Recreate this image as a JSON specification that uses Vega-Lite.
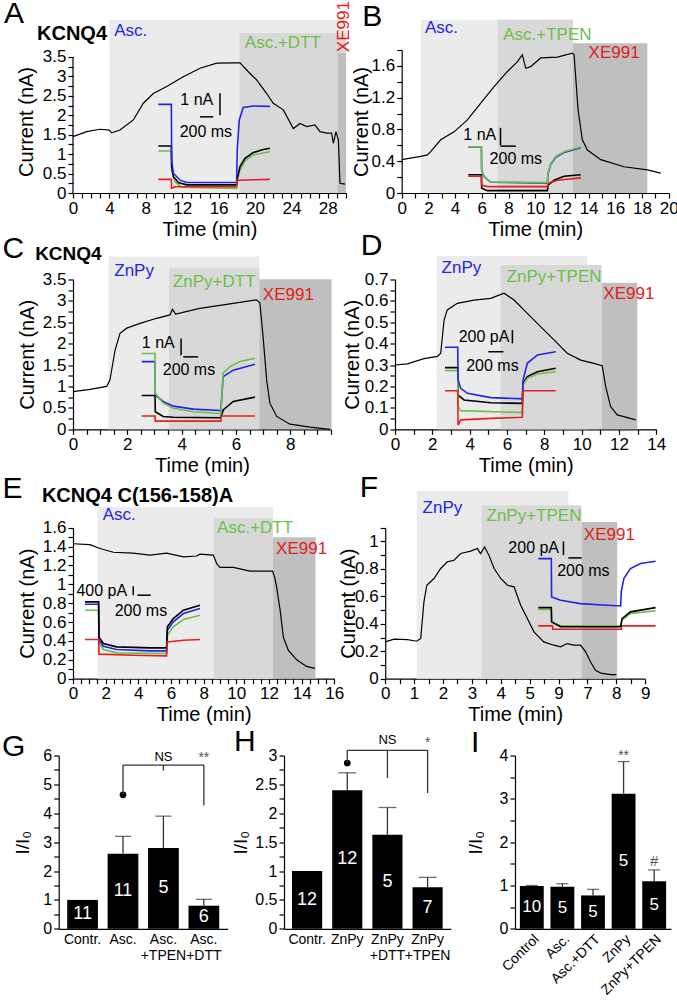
{
"$schema":"https://vega.github.io/schema/vega-lite/v6.json",
"autosize":{"type":"none"},
"padding":{"left":73,"top":50,"right":604,"bottom":953},
"config":{"font":"Liberation Sans","view":{"stroke":null},
 "axis":{"grid":false,"domainColor":"black","tickColor":"black","labelColor":"black","titleColor":"black","labelFontSize":17,"titleFontSize":20,"titleFontWeight":"normal","tickSize":5,"labelPadding":2,"domainWidth":1.2,"tickWidth":1.2,"labelOverlap":false,"labelFlush":false,"labelBound":false}},
"datasets":{
"one":[{}],
"A_trace":[{"t":0,"v":1.45},{"t":1.5,"v":1.58},{"t":2.97,"v":1.64},{"t":3.99,"v":1.62},{"t":4.25,"v":1.55},{"t":5.16,"v":1.62},{"t":6.63,"v":1.88},{"t":7.73,"v":2.31},{"t":8.83,"v":2.56},{"t":10.3,"v":2.74},{"t":12.12,"v":2.99},{"t":13.96,"v":3.21},{"t":15.79,"v":3.34},{"t":17.62,"v":3.35},{"t":18.35,"v":3.35},{"t":19.27,"v":3.12},{"t":20.18,"v":2.91},{"t":21.28,"v":2.56},{"t":22.01,"v":2.31},{"t":23.11,"v":2.14},{"t":24.21,"v":1.66},{"t":24.95,"v":1.79},{"t":25.68,"v":1.71},{"t":26.59,"v":1.75},{"t":27.14,"v":1.58},{"t":27.87,"v":1.54},{"t":28.42,"v":1.54},{"t":28.61,"v":1.28},{"t":28.9,"v":1.58},{"t":29.16,"v":1.36},{"t":29.34,"v":0.25},{"t":29.89,"v":0.23}],
"A_inset":[
{"trace":"drug+agent","t":9.38,"v":1.08},{"trace":"drug+agent","t":10.81,"v":1.08},{"trace":"drug+agent","t":10.84,"v":0.59},{"trace":"drug+agent","t":11.21,"v":0.29},{"trace":"drug+agent","t":11.94,"v":0.15},{"trace":"drug+agent","t":17.98,"v":0.12},{"trace":"drug+agent","t":18.05,"v":0.29},{"trace":"drug+agent","t":18.35,"v":0.59},{"trace":"drug+agent","t":18.9,"v":0.83},{"trace":"drug+agent","t":19.81,"v":0.98},{"trace":"drug+agent","t":21.64,"v":1.06},
{"trace":"control","t":9.38,"v":1.21},{"trace":"control","t":10.81,"v":1.21},{"trace":"control","t":10.84,"v":0.68},{"trace":"control","t":11.03,"v":0.42},{"trace":"control","t":11.58,"v":0.27},{"trace":"control","t":12.49,"v":0.21},{"trace":"control","t":17.98,"v":0.21},{"trace":"control","t":18.05,"v":0.38},{"trace":"control","t":18.35,"v":0.68},{"trace":"control","t":18.9,"v":0.89},{"trace":"control","t":19.81,"v":1.04},{"trace":"control","t":20.91,"v":1.12},{"trace":"control","t":21.64,"v":1.15},
{"trace":"drug","t":9.38,"v":2.28},{"trace":"drug","t":10.81,"v":2.28},{"trace":"drug","t":10.84,"v":0.85},{"trace":"drug","t":11.03,"v":0.51},{"trace":"drug","t":11.76,"v":0.33},{"trace":"drug","t":12.49,"v":0.27},{"trace":"drug","t":17.98,"v":0.27},{"trace":"drug","t":18.05,"v":1.11},{"trace":"drug","t":18.27,"v":1.88},{"trace":"drug","t":18.71,"v":2.2},{"trace":"drug","t":19.81,"v":2.24},{"trace":"drug","t":21.64,"v":2.23},
{"trace":"XE991","t":9.38,"v":0.35},{"trace":"XE991","t":10.81,"v":0.35},{"trace":"XE991","t":10.84,"v":0.12},{"trace":"XE991","t":11.21,"v":0.16},{"trace":"XE991","t":17.98,"v":0.16},{"trace":"XE991","t":18.05,"v":0.33},{"trace":"XE991","t":21.64,"v":0.35}],
"B_trace":[{"t":0,"v":0.42},{"t":1.42,"v":0.46},{"t":1.92,"v":0.48},{"t":2.17,"v":0.52},{"t":2.92,"v":0.67},{"t":3.92,"v":0.77},{"t":4.92,"v":0.92},{"t":5.92,"v":1.13},{"t":6.92,"v":1.34},{"t":7.92,"v":1.53},{"t":8.66,"v":1.65},{"t":9.04,"v":1.74},{"t":9.29,"v":1.57},{"t":9.66,"v":1.59},{"t":10.41,"v":1.7},{"t":11.66,"v":1.71},{"t":12.78,"v":1.76},{"t":12.91,"v":1.74},{"t":13.21,"v":1.05},{"t":13.53,"v":0.67},{"t":13.91,"v":0.54},{"t":14.91,"v":0.42},{"t":16.65,"v":0.33},{"t":18.4,"v":0.29},{"t":19.4,"v":0.25}],
"B_inset":[
{"trace":"drug","t":4.99,"v":0.575},{"trace":"drug","t":5.97,"v":0.575},{"trace":"drug","t":5.99,"v":0.285},{"trace":"drug","t":6.17,"v":0.205},{"trace":"drug","t":6.67,"v":0.135},{"trace":"drug","t":10.91,"v":0.125},{"trace":"drug","t":10.96,"v":0.24},{"trace":"drug","t":11.16,"v":0.36},{"trace":"drug","t":11.54,"v":0.45},{"trace":"drug","t":12.16,"v":0.51},{"trace":"drug","t":13.41,"v":0.57},
{"trace":"control","t":4.99,"v":0.23},{"trace":"control","t":5.97,"v":0.23},{"trace":"control","t":5.99,"v":0.06},{"trace":"control","t":6.42,"v":0.03},{"trace":"control","t":10.91,"v":0.03},{"trace":"control","t":10.96,"v":0.1},{"trace":"control","t":11.41,"v":0.16},{"trace":"control","t":12.16,"v":0.21},{"trace":"control","t":13.41,"v":0.23},
{"trace":"XE991","t":4.99,"v":0.21},{"trace":"XE991","t":5.97,"v":0.21},{"trace":"XE991","t":5.99,"v":0.1},{"trace":"XE991","t":6.42,"v":0.08},{"trace":"XE991","t":10.91,"v":0.08},{"trace":"XE991","t":10.96,"v":0.12},{"trace":"XE991","t":11.66,"v":0.16},{"trace":"XE991","t":13.41,"v":0.19},
{"trace":"drug+agent","t":4.99,"v":0.58},{"trace":"drug+agent","t":5.97,"v":0.58},{"trace":"drug+agent","t":5.99,"v":0.29},{"trace":"drug+agent","t":6.17,"v":0.21},{"trace":"drug+agent","t":6.67,"v":0.14},{"trace":"drug+agent","t":10.91,"v":0.13},{"trace":"drug+agent","t":10.96,"v":0.25},{"trace":"drug+agent","t":11.16,"v":0.37},{"trace":"drug+agent","t":11.54,"v":0.46},{"trace":"drug+agent","t":12.16,"v":0.52},{"trace":"drug+agent","t":13.41,"v":0.58}],
"C_trace":[{"t":0,"v":0.88},{"t":0.63,"v":0.93},{"t":1.24,"v":1.0},{"t":1.36,"v":1.15},{"t":1.55,"v":1.85},{"t":1.73,"v":2.24},{"t":1.98,"v":2.36},{"t":2.47,"v":2.47},{"t":3.08,"v":2.59},{"t":3.57,"v":2.67},{"t":3.66,"v":2.8},{"t":3.78,"v":2.69},{"t":4.67,"v":2.82},{"t":5.9,"v":2.94},{"t":6.76,"v":3.02},{"t":6.88,"v":2.95},{"t":7.0,"v":2.16},{"t":7.13,"v":1.15},{"t":7.25,"v":0.61},{"t":7.5,"v":0.3},{"t":7.99,"v":0.12},{"t":8.73,"v":0.05},{"t":9.46,"v":0.0}],
"C_inset":[
{"trace":"control","t":2.53,"v":0.79},{"trace":"control","t":3.02,"v":0.79},{"trace":"control","t":3.03,"v":0.41},{"trace":"control","t":3.32,"v":0.3},{"trace":"control","t":3.69,"v":0.28},{"trace":"control","t":5.41,"v":0.27},{"trace":"control","t":5.44,"v":0.27},{"trace":"control","t":5.53,"v":0.45},{"trace":"control","t":5.9,"v":0.65},{"trace":"control","t":6.7,"v":0.75},
{"trace":"XE991","t":2.53,"v":0.31},{"trace":"XE991","t":3.02,"v":0.31},{"trace":"XE991","t":3.03,"v":0.19},{"trace":"XE991","t":5.44,"v":0.19},{"trace":"XE991","t":5.45,"v":0.31},{"trace":"XE991","t":6.7,"v":0.31},
{"trace":"drug","t":2.53,"v":1.58},{"trace":"drug","t":3.02,"v":1.58},{"trace":"drug","t":3.03,"v":0.8},{"trace":"drug","t":3.32,"v":0.65},{"trace":"drug","t":3.69,"v":0.54},{"trace":"drug","t":4.43,"v":0.47},{"trace":"drug","t":5.41,"v":0.44},{"trace":"drug","t":5.44,"v":0.42},{"trace":"drug","t":5.53,"v":1.23},{"trace":"drug","t":5.9,"v":1.38},{"trace":"drug","t":6.7,"v":1.52},
{"trace":"drug+agent","t":2.53,"v":1.77},{"trace":"drug+agent","t":3.02,"v":1.77},{"trace":"drug+agent","t":3.03,"v":0.84},{"trace":"drug+agent","t":3.32,"v":0.61},{"trace":"drug+agent","t":3.69,"v":0.49},{"trace":"drug+agent","t":4.43,"v":0.41},{"trace":"drug+agent","t":5.41,"v":0.37},{"trace":"drug+agent","t":5.44,"v":0.36},{"trace":"drug+agent","t":5.53,"v":1.31},{"trace":"drug+agent","t":5.78,"v":1.46},{"trace":"drug+agent","t":6.15,"v":1.58},{"trace":"drug+agent","t":6.7,"v":1.66}],
"D_trace":[{"t":0,"v":0.3},{"t":0.66,"v":0.305},{"t":1.55,"v":0.33},{"t":2.27,"v":0.34},{"t":2.45,"v":0.355},{"t":2.63,"v":0.51},{"t":2.8,"v":0.557},{"t":3.34,"v":0.588},{"t":4.23,"v":0.603},{"t":5.13,"v":0.611},{"t":5.84,"v":0.635},{"t":6.38,"v":0.603},{"t":7.09,"v":0.541},{"t":7.8,"v":0.479},{"t":8.52,"v":0.417},{"t":9.23,"v":0.355},{"t":9.95,"v":0.323},{"t":10.66,"v":0.308},{"t":11.1,"v":0.297},{"t":11.29,"v":0.199},{"t":11.55,"v":0.106},{"t":11.91,"v":0.067},{"t":12.6,"v":0.051},{"t":12.9,"v":0.044}],
"D_inset":[
{"trace":"control","t":2.68,"v":0.288},{"trace":"control","t":3.36,"v":0.288},{"trace":"control","t":3.38,"v":0.16},{"trace":"control","t":3.7,"v":0.137},{"trace":"control","t":5.13,"v":0.124},{"trace":"control","t":6.82,"v":0.121},{"trace":"control","t":6.86,"v":0.215},{"trace":"control","t":7.09,"v":0.246},{"trace":"control","t":7.63,"v":0.269},{"trace":"control","t":8.61,"v":0.285},
{"trace":"drug+agent","t":2.68,"v":0.274},{"trace":"drug+agent","t":3.36,"v":0.274},{"trace":"drug+agent","t":3.38,"v":0.106},{"trace":"drug+agent","t":3.52,"v":0.087},{"trace":"drug+agent","t":6.82,"v":0.078},{"trace":"drug+agent","t":6.86,"v":0.207},{"trace":"drug+agent","t":7.09,"v":0.238},{"trace":"drug+agent","t":7.63,"v":0.258},{"trace":"drug+agent","t":8.61,"v":0.269},
{"trace":"drug","t":2.68,"v":0.383},{"trace":"drug","t":3.36,"v":0.383},{"trace":"drug","t":3.38,"v":0.23},{"trace":"drug","t":3.52,"v":0.191},{"trace":"drug","t":3.88,"v":0.168},{"trace":"drug","t":5.13,"v":0.148},{"trace":"drug","t":6.82,"v":0.142},{"trace":"drug","t":6.86,"v":0.23},{"trace":"drug","t":7.09,"v":0.308},{"trace":"drug","t":7.63,"v":0.347},{"trace":"drug","t":8.61,"v":0.362},
{"trace":"XE991","t":2.68,"v":0.18},{"trace":"XE991","t":3.36,"v":0.18},{"trace":"XE991","t":3.38,"v":0.02},{"trace":"XE991","t":3.52,"v":0.044},{"trace":"XE991","t":5.13,"v":0.051},{"trace":"XE991","t":6.82,"v":0.056},{"trace":"XE991","t":6.86,"v":0.18},{"trace":"XE991","t":8.61,"v":0.18}],
"E_trace":[{"t":0,"v":1.43},{"t":1.04,"v":1.42},{"t":1.65,"v":1.38},{"t":2.47,"v":1.34},{"t":3.69,"v":1.33},{"t":4.71,"v":1.31},{"t":5.73,"v":1.33},{"t":6.76,"v":1.29},{"t":7.57,"v":1.3},{"t":7.78,"v":1.32},{"t":8.59,"v":1.31},{"t":8.8,"v":1.22},{"t":9.0,"v":1.18},{"t":9.82,"v":1.18},{"t":10.84,"v":1.14},{"t":11.86,"v":1.14},{"t":12.22,"v":1.14},{"t":12.37,"v":1.06},{"t":12.47,"v":0.97},{"t":12.68,"v":0.73},{"t":12.88,"v":0.44},{"t":13.19,"v":0.3},{"t":13.7,"v":0.2},{"t":14.3,"v":0.13},{"t":14.82,"v":0.11}],
"E_inset":[
{"trace":"drug+agent","t":0.73,"v":0.726},{"trace":"drug+agent","t":1.57,"v":0.726},{"trace":"drug+agent","t":1.59,"v":0.373},{"trace":"drug+agent","t":1.86,"v":0.309},{"trace":"drug+agent","t":2.67,"v":0.274},{"trace":"drug+agent","t":5.73,"v":0.267},{"trace":"drug+agent","t":5.78,"v":0.461},{"trace":"drug+agent","t":6.14,"v":0.549},{"trace":"drug+agent","t":6.76,"v":0.627},{"trace":"drug+agent","t":7.78,"v":0.673},
{"trace":"drug","t":0.73,"v":0.789},{"trace":"drug","t":1.57,"v":0.789},{"trace":"drug","t":1.59,"v":0.408},{"trace":"drug","t":1.86,"v":0.344},{"trace":"drug","t":2.67,"v":0.309},{"trace":"drug","t":4.71,"v":0.295},{"trace":"drug","t":5.73,"v":0.295},{"trace":"drug","t":5.78,"v":0.514},{"trace":"drug","t":6.14,"v":0.602},{"trace":"drug","t":6.76,"v":0.69},{"trace":"drug","t":7.78,"v":0.743},
{"trace":"control","t":0.73,"v":0.814},{"trace":"control","t":1.57,"v":0.814},{"trace":"control","t":1.59,"v":0.443},{"trace":"control","t":1.86,"v":0.373},{"trace":"control","t":2.67,"v":0.337},{"trace":"control","t":4.71,"v":0.327},{"trace":"control","t":5.73,"v":0.327},{"trace":"control","t":5.78,"v":0.549},{"trace":"control","t":6.14,"v":0.637},{"trace":"control","t":6.76,"v":0.726},{"trace":"control","t":7.78,"v":0.779},
{"trace":"XE991","t":0.73,"v":0.415},{"trace":"XE991","t":1.57,"v":0.415},{"trace":"XE991","t":1.59,"v":0.26},{"trace":"XE991","t":3.69,"v":0.249},{"trace":"XE991","t":5.73,"v":0.242},{"trace":"XE991","t":5.78,"v":0.39},{"trace":"XE991","t":6.76,"v":0.408},{"trace":"XE991","t":7.78,"v":0.415}],
"F_trace":[{"t":0,"v":0.268},{"t":0.31,"v":0.288},{"t":0.77,"v":0.285},{"t":1.09,"v":0.273},{"t":1.23,"v":0.293},{"t":1.34,"v":0.559},{"t":1.44,"v":0.681},{"t":1.69,"v":0.73},{"t":1.92,"v":0.803},{"t":2.15,"v":0.851},{"t":2.38,"v":0.863},{"t":2.61,"v":0.912},{"t":2.96,"v":0.929},{"t":3.19,"v":0.948},{"t":3.3,"v":0.912},{"t":3.44,"v":0.96},{"t":3.59,"v":0.9},{"t":3.77,"v":0.803},{"t":4.0,"v":0.73},{"t":4.23,"v":0.681},{"t":4.46,"v":0.669},{"t":4.69,"v":0.535},{"t":4.92,"v":0.438},{"t":5.15,"v":0.341},{"t":5.49,"v":0.268},{"t":5.84,"v":0.244},{"t":6.07,"v":0.232},{"t":6.3,"v":0.256},{"t":6.53,"v":0.244},{"t":6.76,"v":0.244},{"t":6.94,"v":0.195},{"t":7.11,"v":0.122},{"t":7.28,"v":0.062},{"t":7.47,"v":0.04},{"t":7.8,"v":0.03},{"t":8.0,"v":0.03}],
"F_inset":[
{"trace":"drug","t":5.3,"v":0.875},{"trace":"drug","t":5.75,"v":0.875},{"trace":"drug","t":5.76,"v":0.596},{"trace":"drug","t":6.07,"v":0.572},{"trace":"drug","t":6.76,"v":0.547},{"trace":"drug","t":7.69,"v":0.535},{"trace":"drug","t":8.15,"v":0.53},{"trace":"drug","t":8.17,"v":0.632},{"trace":"drug","t":8.26,"v":0.73},{"trace":"drug","t":8.49,"v":0.802},{"trace":"drug","t":8.84,"v":0.839},{"trace":"drug","t":9.36,"v":0.856},
{"trace":"XE991","t":5.3,"v":0.385},{"trace":"XE991","t":5.79,"v":0.385},{"trace":"XE991","t":5.8,"v":0.36},{"trace":"XE991","t":8.17,"v":0.36},{"trace":"XE991","t":8.18,"v":0.385},{"trace":"XE991","t":9.36,"v":0.385},
{"trace":"drug+agent","t":5.3,"v":0.504},{"trace":"drug+agent","t":5.75,"v":0.504},{"trace":"drug+agent","t":5.76,"v":0.414},{"trace":"drug+agent","t":6.07,"v":0.385},{"trace":"drug+agent","t":8.15,"v":0.385},{"trace":"drug+agent","t":8.2,"v":0.426},{"trace":"drug+agent","t":8.49,"v":0.475},{"trace":"drug+agent","t":9.36,"v":0.494},
{"trace":"control","t":5.3,"v":0.518},{"trace":"control","t":5.75,"v":0.518},{"trace":"control","t":5.76,"v":0.414},{"trace":"control","t":6.07,"v":0.378},{"trace":"control","t":8.15,"v":0.378},{"trace":"control","t":8.2,"v":0.438},{"trace":"control","t":8.49,"v":0.487},{"trace":"control","t":9.36,"v":0.518}],
"G":[{"cond":"Contr.","mean":1.0,"n":11},{"cond":"Asc.","mean":2.6,"upper":3.2,"n":11},{"cond":"Asc.+TPEN","mean":2.8,"upper":3.9,"n":5},{"cond":"Asc.+DTT","mean":0.8,"upper":1.02,"n":6}],
"H":[{"cond":"Contr.","mean":1.0,"n":12},{"cond":"ZnPy","mean":2.4,"upper":2.7,"n":12},{"cond":"ZnPy+DTT","mean":1.63,"upper":2.1,"n":5},{"cond":"ZnPy+TPEN","mean":0.72,"upper":0.89,"n":7}],
"I":[{"cond":"Control","mean":0.99,"upper":1.0,"n":10},{"cond":"Asc.","mean":0.97,"upper":1.04,"n":5},{"cond":"Asc.+DTT","mean":0.77,"upper":0.91,"n":5},{"cond":"ZnPy","mean":3.12,"upper":3.86,"n":5},{"cond":"ZnPy+TPEN","mean":1.1,"upper":1.36,"n":5}]
},
"bounds":"flush","columns":3,"align":"each","spacing":{"row":76.5,"column":0},
"concat":[
  {"width":210.3,"height":143,"data":{"name":"one"},"layer":[
   {"mark":{"type":"rect","color":"#ebebeb"},"encoding":{
     "x":{"datum":4,"type":"quantitative","scale":{"domain":[0,30],"range":[0,273],"nice":false,"zero":false},"axis":{"title":"Time (min)","titlePadding":3,"tickCount":500,"labelOverlap":false,"values":[0,1,2,3,4,5,6,7,8,9,10,11,12,13,14,15,16,17,18,19,20,21,22,23,24,25,26,27,28,29,30],"labelExpr":"abs(datum.value/4-round(datum.value/4))<0.001 ? format(datum.value,'~g') : ''"}},
     "x2":{"datum":30},
     "y":{"datum":0,"type":"quantitative","scale":{"domain":[0,3.68],"nice":false},"axis":{"title":"Current (nA)","titlePadding":6,"tickCount":500,"labelOverlap":false,"domain":false,"values":[0,0.25,0.5,0.75,1,1.25,1.5,1.75,2,2.25,2.5,2.75,3,3.25,3.5],"labelExpr":"abs(datum.value/0.5-round(datum.value/0.5))<0.001 ? format(datum.value,'~g') : ''"}},
     "y2":{"datum":4.45}}},
   {"mark":{"type":"rect","color":"#d8d8d8"},"encoding":{"x":{"datum":18.3},"x2":{"datum":30},"y":{"datum":0},"y2":{"datum":4.12}}},
   {"mark":{"type":"rect","color":"#bfbfbf"},"encoding":{"x":{"datum":29.1},"x2":{"datum":30},"y":{"datum":0},"y2":{"datum":3.6}}},
   {"mark":{"type":"rule","color":"black","strokeWidth":1.2},"encoding":{"x":{"datum":0},"y":{"datum":0},"y2":{"datum":3.5}}},
   {"data":{"name":"A_trace"},"mark":{"type":"line","color":"black","strokeWidth":1.2},"encoding":{"x":{"field":"t","type":"quantitative"},"y":{"field":"v","type":"quantitative"}}},
   {"data":{"name":"A_inset"},"mark":{"type":"line","strokeWidth":1.6},"encoding":{"x":{"field":"t","type":"quantitative"},"y":{"field":"v","type":"quantitative"},"color":{"field":"trace","type":"nominal","scale":{"domain":["control","drug","drug+agent","XE991"],"range":["black","#2323e8","#6cc04a","#e3201b"]},"legend":null}}},
   {"mark":{"type":"rule","color":"black","strokeWidth":1.5},"encoding":{"x":{"datum":16.15},"y":{"datum":2.0},"y2":{"datum":2.57}}},
   {"mark":{"type":"rule","color":"black","strokeWidth":1.5},"encoding":{"x":{"datum":13.95},"x2":{"datum":15.4},"y":{"datum":1.96}}},
   {"mark":{"type":"text","fontSize":16},"encoding":{"x":{"datum":13.6},"y":{"datum":2.39},"text":{"value":"1 nA"}}},
   {"mark":{"type":"text","fontSize":16},"encoding":{"x":{"datum":14.6},"y":{"datum":1.57},"text":{"value":"200 ms"}}},
   {"mark":{"type":"text","fontSize":30},"encoding":{"x":{"datum":-6.48},"y":{"datum":4.61},"text":{"value":"A"}}},
   {"mark":{"type":"text","fontSize":20,"fontWeight":"bold"},"encoding":{"x":{"datum":-0.11},"y":{"datum":4.1},"text":{"value":"KCNQ4"}}},
   {"mark":{"type":"text","fontSize":17,"color":"#2323e8"},"encoding":{"x":{"datum":6.34},"y":{"datum":4.17},"text":{"value":"Asc."}}},
   {"mark":{"type":"text","fontSize":17,"color":"#6cc04a"},"encoding":{"x":{"datum":23.06},"y":{"datum":3.85},"text":{"value":"Asc.+DTT"}}},
   {"mark":{"type":"text","fontSize":17,"color":"#e3201b","angle":270},"encoding":{"x":{"datum":29.78},"y":{"datum":4.28},"text":{"value":"XE991"}}}
  ]},
  {"width":230.7,"height":143,"data":{"name":"one"},"layer":[
   {"mark":{"type":"rect","color":"#ebebeb"},"encoding":{
     "x":{"datum":1.42,"type":"quantitative","scale":{"domain":[0,20],"range":[117.7,384.7],"nice":false,"zero":false},"axis":{"title":"Time (min)","titlePadding":3,"tickCount":500,"labelOverlap":false,"values":[0,1,2,3,4,5,6,7,8,9,10,11,12,13,14,15,16,17,18,19,20],"labelExpr":"abs(datum.value/2-round(datum.value/2))<0.001 ? format(datum.value,'~g') : ''"}},
     "x2":{"datum":12.83},
     "y":{"datum":0,"type":"quantitative","scale":{"domain":[0,1.8],"nice":false},"axis":{"title":"Current (nA)","offset":-117.7,"titlePadding":0,"tickCount":500,"labelOverlap":false,"values":[0,0.2,0.4,0.6,0.8,1,1.2,1.4,1.6,1.8],"labelExpr":"abs(datum.value/0.4-round(datum.value/0.4))<0.001 ? format(datum.value,'~g') : ''"}},
     "y2":{"datum":2.18}}},
   {"mark":{"type":"rect","color":"#d8d8d8"},"encoding":{"x":{"datum":7.17},"x2":{"datum":12.83},"y":{"datum":0},"y2":{"datum":2.18}}},
   {"mark":{"type":"rect","color":"#bfbfbf"},"encoding":{"x":{"datum":12.83},"x2":{"datum":18.4},"y":{"datum":0},"y2":{"datum":1.885}}},
   {"data":{"name":"B_trace"},"mark":{"type":"line","color":"black","strokeWidth":1.2},"encoding":{"x":{"field":"t","type":"quantitative"},"y":{"field":"v","type":"quantitative"}}},
   {"data":{"name":"B_inset"},"mark":{"type":"line","strokeWidth":1.6},"encoding":{"x":{"field":"t","type":"quantitative"},"y":{"field":"v","type":"quantitative"},"color":{"field":"trace","type":"nominal","legend":null}}},
   {"mark":{"type":"rule","color":"black","strokeWidth":1.5},"encoding":{"x":{"datum":7.4},"y":{"datum":0.6},"y2":{"datum":0.82}}},
   {"mark":{"type":"rule","color":"black","strokeWidth":1.5},"encoding":{"x":{"datum":7.4},"x2":{"datum":8.55},"y":{"datum":0.59}}},
   {"mark":{"type":"text","fontSize":16},"encoding":{"x":{"datum":5.85},"y":{"datum":0.73},"text":{"value":"1 nA"}}},
   {"mark":{"type":"text","fontSize":16},"encoding":{"x":{"datum":8.55},"y":{"datum":0.43},"text":{"value":"200 ms"}}},
   {"mark":{"type":"text","fontSize":30},"encoding":{"x":{"datum":-2.2},"y":{"datum":2.22},"text":{"value":"B"}}},
   {"mark":{"type":"text","fontSize":17,"color":"#2323e8"},"encoding":{"x":{"datum":2.98},"y":{"datum":2.08},"text":{"value":"Asc."}}},
   {"mark":{"type":"text","fontSize":17,"color":"#6cc04a"},"encoding":{"x":{"datum":10.91},"y":{"datum":1.99},"text":{"value":"Asc.+TPEN"}}},
   {"mark":{"type":"text","fontSize":17,"color":"#e3201b"},"encoding":{"x":{"datum":15.91},"y":{"datum":1.76},"text":{"value":"XE991"}}}
  ]},
  {"width":0,"height":143,"data":{"name":"one"},"mark":{"type":"point","opacity":0},"encoding":{}},
  {"width":210.3,"height":159.8,"data":{"name":"one"},"layer":[
   {"mark":{"type":"rect","color":"#ebebeb"},"encoding":{
     "x":{"datum":1.3,"type":"quantitative","scale":{"domain":[0,9.5],"range":[0,258],"nice":false,"zero":false},"axis":{"title":"Time (min)","titlePadding":3,"tickCount":500,"labelOverlap":false,"values":[0,0.5,1,1.5,2,2.5,3,3.5,4,4.5,5,5.5,6,6.5,7,7.5,8,8.5,9,9.5],"labelExpr":"abs(datum.value/2-round(datum.value/2))<0.001 ? format(datum.value,'~g') : ''"}},
     "x2":{"datum":6.86},
     "y":{"datum":0,"type":"quantitative","scale":{"domain":[0,3.5],"range":[159.8,9.8],"nice":false},"axis":{"title":"Current (nA)","titlePadding":5,"tickCount":500,"labelOverlap":false,"values":[0,0.25,0.5,0.75,1,1.25,1.5,1.75,2,2.25,2.5,2.75,3,3.25,3.5],"labelExpr":"abs(datum.value/0.5-round(datum.value/0.5))<0.001 ? format(datum.value,'~g') : ''"}},
     "y2":{"datum":4.03}}},
   {"mark":{"type":"rect","color":"#d8d8d8"},"encoding":{"x":{"datum":3.53},"x2":{"datum":6.86},"y":{"datum":0},"y2":{"datum":3.76}}},
   {"mark":{"type":"rect","color":"#bfbfbf"},"encoding":{"x":{"datum":6.86},"x2":{"datum":9.52},"y":{"datum":0},"y2":{"datum":3.5}}},
   {"data":{"name":"C_trace"},"mark":{"type":"line","color":"black","strokeWidth":1.2},"encoding":{"x":{"field":"t","type":"quantitative"},"y":{"field":"v","type":"quantitative"}}},
   {"data":{"name":"C_inset"},"mark":{"type":"line","strokeWidth":1.6},"encoding":{"x":{"field":"t","type":"quantitative"},"y":{"field":"v","type":"quantitative"},"color":{"field":"trace","type":"nominal","legend":null}}},
   {"mark":{"type":"rule","color":"black","strokeWidth":1.5},"encoding":{"x":{"datum":3.98},"y":{"datum":1.73},"y2":{"datum":2.12}}},
   {"mark":{"type":"rule","color":"black","strokeWidth":1.5},"encoding":{"x":{"datum":4.06},"x2":{"datum":4.61},"y":{"datum":1.69}}},
   {"mark":{"type":"text","fontSize":16},"encoding":{"x":{"datum":3.14},"y":{"datum":2.01},"text":{"value":"1 nA"}}},
   {"mark":{"type":"text","fontSize":16},"encoding":{"x":{"datum":4.27},"y":{"datum":1.38},"text":{"value":"200 ms"}}},
   {"mark":{"type":"text","fontSize":30},"encoding":{"x":{"datum":-2.2},"y":{"datum":4.21},"text":{"value":"C"}}},
   {"mark":{"type":"text","fontSize":19,"fontWeight":"bold"},"encoding":{"x":{"datum":-0.17},"y":{"datum":4.09},"text":{"value":"KCNQ4"}}},
   {"mark":{"type":"text","fontSize":17,"color":"#2323e8"},"encoding":{"x":{"datum":2.25},"y":{"datum":3.7},"text":{"value":"ZnPy"}}},
   {"mark":{"type":"text","fontSize":17,"color":"#6cc04a"},"encoding":{"x":{"datum":5.2},"y":{"datum":3.43},"text":{"value":"ZnPy+DTT"}}},
   {"mark":{"type":"text","fontSize":17,"color":"#e3201b"},"encoding":{"x":{"datum":7.93},"y":{"datum":3.13},"text":{"value":"XE991"}}}
  ]},
  {"width":230.7,"height":159.8,"data":{"name":"one"},"layer":[
   {"mark":{"type":"rect","color":"#ebebeb"},"encoding":{
     "x":{"datum":2.23,"type":"quantitative","scale":{"domain":[0,14],"range":[111,372.3],"nice":false,"zero":false},"axis":{"title":"Time (min)","titlePadding":3,"tickCount":500,"labelOverlap":false,"values":[0,1,2,3,4,5,6,7,8,9,10,11,12,13,14],"labelExpr":"abs(datum.value/2-round(datum.value/2))<0.001 ? format(datum.value,'~g') : ''"}},
     "x2":{"datum":10.3},
     "y":{"datum":0,"type":"quantitative","scale":{"domain":[0,0.7],"range":[159.8,9.8],"nice":false},"axis":{"title":"Current (nA)","offset":-111,"titlePadding":2,"tickCount":500,"labelOverlap":false,"values":[0,0.05,0.1,0.15,0.2,0.25,0.3,0.35,0.4,0.45,0.5,0.55,0.6,0.65,0.7],"labelExpr":"abs(datum.value/0.1-round(datum.value/0.1))<0.001 ? format(datum.value,'~g') : ''"}},
     "y2":{"datum":0.809}}},
   {"mark":{"type":"rect","color":"#d8d8d8"},"encoding":{"x":{"datum":5.66},"x2":{"datum":11.07},"y":{"datum":0},"y2":{"datum":0.767}}},
   {"mark":{"type":"rect","color":"#bfbfbf"},"encoding":{"x":{"datum":11.07},"x2":{"datum":12.98},"y":{"datum":0},"y2":{"datum":0.684}}},
   {"data":{"name":"D_trace"},"mark":{"type":"line","color":"black","strokeWidth":1.2},"encoding":{"x":{"field":"t","type":"quantitative"},"y":{"field":"v","type":"quantitative"}}},
   {"data":{"name":"D_inset"},"mark":{"type":"line","strokeWidth":1.6},"encoding":{"x":{"field":"t","type":"quantitative"},"y":{"field":"v","type":"quantitative"},"color":{"field":"trace","type":"nominal","legend":null}}},
   {"mark":{"type":"rule","color":"black","strokeWidth":1.5},"encoding":{"x":{"datum":6.29},"y":{"datum":0.401},"y2":{"datum":0.463}}},
   {"mark":{"type":"rule","color":"black","strokeWidth":1.5},"encoding":{"x":{"datum":5.0},"x2":{"datum":5.81},"y":{"datum":0.362}}},
   {"mark":{"type":"text","fontSize":16},"encoding":{"x":{"datum":4.77},"y":{"datum":0.432},"text":{"value":"200 pA"}}},
   {"mark":{"type":"text","fontSize":16},"encoding":{"x":{"datum":5.22},"y":{"datum":0.297},"text":{"value":"200 ms"}}},
   {"mark":{"type":"text","fontSize":30},"encoding":{"x":{"datum":-1.26},"y":{"datum":0.855},"text":{"value":"D"}}},
   {"mark":{"type":"text","fontSize":17,"color":"#2323e8"},"encoding":{"x":{"datum":3.56},"y":{"datum":0.755},"text":{"value":"ZnPy"}}},
   {"mark":{"type":"text","fontSize":17,"color":"#6cc04a"},"encoding":{"x":{"datum":8.52},"y":{"datum":0.712},"text":{"value":"ZnPy+TPEN"}}},
   {"mark":{"type":"text","fontSize":17,"color":"#e3201b"},"encoding":{"x":{"datum":12.53},"y":{"datum":0.63},"text":{"value":"XE991"}}}
  ]},
  {"width":0,"height":159.8,"data":{"name":"one"},"mark":{"type":"point","opacity":0},"encoding":{}},
  {"width":210.3,"height":172.7,"data":{"name":"one"},"layer":[
   {"mark":{"type":"rect","color":"#ebebeb"},"encoding":{
     "x":{"datum":1.5,"type":"quantitative","scale":{"domain":[0,16],"range":[0,261.3],"nice":false,"zero":false},"axis":{"title":"Time (min)","titlePadding":3,"tickCount":500,"labelOverlap":false,"values":[0,0.5,1,1.5,2,2.5,3,3.5,4,4.5,5,5.5,6,6.5,7,7.5,8,8.5,9,9.5,10,10.5,11,11.5,12,12.5,13,13.5,14,14.5,15,15.5,16],"labelExpr":"abs(datum.value/2-round(datum.value/2))<0.001 ? format(datum.value,'~g') : ''"}},
     "x2":{"datum":12.25},
     "y":{"datum":0,"type":"quantitative","scale":{"domain":[0,1.6],"range":[172.7,21.7],"nice":false},"axis":{"title":"Current (nA)","titlePadding":5,"tickCount":500,"labelOverlap":false,"values":[0,0.1,0.2,0.3,0.4,0.5,0.6,0.7,0.8,0.9,1,1.1,1.2,1.3,1.4,1.5,1.6],"labelExpr":"abs(datum.value/0.2-round(datum.value/0.2))<0.001 ? format(datum.value,'~g') : ''"}},
     "y2":{"datum":1.82}}},
   {"mark":{"type":"rect","color":"#d8d8d8"},"encoding":{"x":{"datum":8.65},"x2":{"datum":12.25},"y":{"datum":0},"y2":{"datum":1.7}}},
   {"mark":{"type":"rect","color":"#bfbfbf"},"encoding":{"x":{"datum":12.25},"x2":{"datum":14.85},"y":{"datum":0},"y2":{"datum":1.5}}},
   {"data":{"name":"E_trace"},"mark":{"type":"line","color":"black","strokeWidth":1.2},"encoding":{"x":{"field":"t","type":"quantitative"},"y":{"field":"v","type":"quantitative"}}},
   {"data":{"name":"E_inset"},"mark":{"type":"line","strokeWidth":1.6},"encoding":{"x":{"field":"t","type":"quantitative"},"y":{"field":"v","type":"quantitative"},"color":{"field":"trace","type":"nominal","legend":null}}},
   {"mark":{"type":"rule","color":"black","strokeWidth":1.5},"encoding":{"x":{"datum":3.69},"y":{"datum":0.885},"y2":{"datum":0.98}}},
   {"mark":{"type":"rule","color":"black","strokeWidth":1.5},"encoding":{"x":{"datum":3.94},"x2":{"datum":4.76},"y":{"datum":0.885}}},
   {"mark":{"type":"text","fontSize":16},"encoding":{"x":{"datum":1.76},"y":{"datum":0.93},"text":{"value":"400 pA"}}},
   {"mark":{"type":"text","fontSize":16},"encoding":{"x":{"datum":4.16},"y":{"datum":0.72},"text":{"value":"200 ms"}}},
   {"mark":{"type":"text","fontSize":30},"encoding":{"x":{"datum":-3.7},"y":{"datum":2.01},"text":{"value":"E"}}},
   {"mark":{"type":"text","fontSize":20,"fontWeight":"bold"},"encoding":{"x":{"datum":3.95},"y":{"datum":1.94},"text":{"value":"KCNQ4 C(156-158)A"}}},
   {"mark":{"type":"text","fontSize":17,"color":"#2323e8"},"encoding":{"x":{"datum":2.83},"y":{"datum":1.73},"text":{"value":"Asc."}}},
   {"mark":{"type":"text","fontSize":17,"color":"#6cc04a"},"encoding":{"x":{"datum":11.15},"y":{"datum":1.6},"text":{"value":"Asc.+DTT"}}},
   {"mark":{"type":"text","fontSize":17,"color":"#e3201b"},"encoding":{"x":{"datum":14.0},"y":{"datum":1.37},"text":{"value":"XE991"}}}
  ]},
  {"width":230.7,"height":172.7,"data":{"name":"one"},"layer":[
   {"mark":{"type":"rect","color":"#ebebeb"},"encoding":{
     "x":{"datum":1.09,"type":"quantitative","scale":{"domain":[0,9],"range":[101.2,361.2],"nice":false,"zero":false},"axis":{"title":"Time (min)","titlePadding":3,"tickCount":500,"labelOverlap":false,"values":[0,0.5,1,1.5,2,2.5,3,3.5,4,4.5,5,5.5,6,6.5,7,7.5,8,8.5,9],"labelExpr":"datum.value == 6 ? '9' : (abs(datum.value-round(datum.value))<0.001 ? format(datum.value,'~g') : '')"}},
     "x2":{"datum":6.34},
     "y":{"datum":0,"type":"quantitative","scale":{"domain":[0,1.1],"range":[172.7,21.7],"nice":false},"axis":{"title":"Current (nA)","offset":-101.2,"titlePadding":-4,"tickCount":500,"labelOverlap":false,"values":[0,0.1,0.2,0.3,0.4,0.5,0.6,0.7,0.8,0.9,1,1.1],"labelExpr":"abs(datum.value/0.2-round(datum.value/0.2))<0.001 ? format(datum.value,'~g') : ''"}},
     "y2":{"datum":1.368}}},
   {"mark":{"type":"rect","color":"#d8d8d8"},"encoding":{"x":{"datum":3.33},"x2":{"datum":6.8},"y":{"datum":0},"y2":{"datum":1.264}}},
   {"mark":{"type":"rect","color":"#bfbfbf"},"encoding":{"x":{"datum":6.8},"x2":{"datum":8.03},"y":{"datum":0},"y2":{"datum":1.142}}},
   {"data":{"name":"F_trace"},"mark":{"type":"line","color":"black","strokeWidth":1.2},"encoding":{"x":{"field":"t","type":"quantitative"},"y":{"field":"v","type":"quantitative"}}},
   {"data":{"name":"F_inset"},"mark":{"type":"line","strokeWidth":1.6},"encoding":{"x":{"field":"t","type":"quantitative"},"y":{"field":"v","type":"quantitative"},"color":{"field":"trace","type":"nominal","legend":null}}},
   {"mark":{"type":"rule","color":"black","strokeWidth":1.5},"encoding":{"x":{"datum":6.17},"y":{"datum":0.9},"y2":{"datum":1.0}}},
   {"mark":{"type":"rule","color":"black","strokeWidth":1.5},"encoding":{"x":{"datum":6.34},"x2":{"datum":6.8},"y":{"datum":0.88}}},
   {"mark":{"type":"text","fontSize":16},"encoding":{"x":{"datum":5.14},"y":{"datum":0.952},"text":{"value":"200 pA"}}},
   {"mark":{"type":"text","fontSize":16},"encoding":{"x":{"datum":6.86},"y":{"datum":0.787},"text":{"value":"200 ms"}}},
   {"mark":{"type":"text","fontSize":30},"encoding":{"x":{"datum":-0.56},"y":{"datum":1.39},"text":{"value":"F"}}},
   {"mark":{"type":"text","fontSize":17,"color":"#2323e8"},"encoding":{"x":{"datum":1.98},"y":{"datum":1.245},"text":{"value":"ZnPy"}}},
   {"mark":{"type":"text","fontSize":17,"color":"#6cc04a"},"encoding":{"x":{"datum":5.15},"y":{"datum":1.185},"text":{"value":"ZnPy+TPEN"}}},
   {"mark":{"type":"text","fontSize":17,"color":"#e3201b"},"encoding":{"x":{"datum":7.76},"y":{"datum":1.047},"text":{"value":"XE991"}}}
  ]},
  {"width":0,"height":172.7,"data":{"name":"one"},"mark":{"type":"point","opacity":0},"encoding":{}},
  {"width":210.3,"height":173.3,"data":{"name":"G"},
   "title":{"text":"G","fontSize":30,"fontWeight":"normal","anchor":"start","frame":"group","dx":-71,"offset":-38,"baseline":"alphabetic","color":"black"},
   "layer":[
   {"mark":{"type":"bar","color":"black"},"encoding":{
     "x":{"field":"cond","type":"nominal","sort":null,"scale":{"range":[-14.3,154.7],"paddingInner":0.24,"paddingOuter":0.21},"axis":{"title":null,"ticks":false,"labelAngle":0,"labelFontSize":14,"labelPadding":4,"labelExpr":"indexof(datum.label,'+')>0 ? [slice(datum.label,0,indexof(datum.label,'+')), slice(datum.label,indexof(datum.label,'+'))] : datum.label"}},
     "y":{"field":"mean","type":"quantitative","scale":{"domain":[0,6],"nice":false},"axis":{"title":"I/I₀","titleFontSize":19,"titlePadding":10,"offset":14.3,"labelFontSize":16,"tickCount":500,"labelOverlap":false,"values":[0,0.5,1,1.5,2,2.5,3,3.5,4,4.5,5,5.5,6],"labelExpr":"abs(datum.value-round(datum.value))<0.001 ? format(datum.value,'~g') : ''"}}}},
   {"transform":[{"filter":"isValid(datum.upper)"}],"mark":{"type":"rule","color":"#333333","strokeWidth":1.3},"encoding":{"x":{"field":"cond","type":"nominal","sort":null},"y":{"field":"mean","type":"quantitative"},"y2":{"field":"upper"}}},
   {"transform":[{"filter":"isValid(datum.upper)"}],"mark":{"type":"tick","color":"#333333","size":16,"thickness":1.3},"encoding":{"x":{"field":"cond","type":"nominal","sort":null},"y":{"field":"upper","type":"quantitative"}}},
   {"mark":{"type":"text","color":"white","fontSize":18},"encoding":{"x":{"field":"cond","type":"nominal","sort":null},"y":{"field":"mean","type":"quantitative","stack":"zero","bandPosition":0.5},"text":{"field":"n","type":"quantitative"}}},
   {"data":{"name":"one"},"mark":{"type":"point","filled":true,"color":"black","size":45,"opacity":1},"encoding":{"x":{"datum":"Asc."},"y":{"datum":4.64}}},
   {"data":{"name":"one"},"mark":{"type":"rule","color":"#333333","strokeWidth":1.3},"encoding":{"x":{"datum":"Asc."},"y":{"datum":4.64},"y2":{"datum":5.67}}},
   {"data":{"name":"one"},"mark":{"type":"rule","color":"#333333","strokeWidth":1.3},"encoding":{"x":{"datum":"Asc."},"x2":{"datum":"Asc.+DTT"},"y":{"datum":5.67}}},
   {"data":{"name":"one"},"mark":{"type":"rule","color":"#333333","strokeWidth":1.3},"encoding":{"x":{"datum":"Asc.+TPEN"},"y":{"datum":5.48},"y2":{"datum":5.67}}},
   {"data":{"name":"one"},"mark":{"type":"rule","color":"#333333","strokeWidth":1.3},"encoding":{"x":{"datum":"Asc.+DTT"},"y":{"datum":4.27},"y2":{"datum":5.67}}},
   {"data":{"name":"one"},"mark":{"type":"text","fontSize":13},"encoding":{"x":{"datum":"Asc.+TPEN"},"y":{"datum":5.96},"text":{"value":"NS"}}},
   {"data":{"name":"one"},"mark":{"type":"text","fontSize":14,"color":"#555555"},"encoding":{"x":{"datum":"Asc.+DTT"},"y":{"datum":5.9},"text":{"value":"**"}}}
  ]},
  {"width":230.7,"height":173.3,"data":{"name":"H"},
   "title":{"text":"H","fontSize":30,"fontWeight":"normal","anchor":"start","frame":"group","dx":-50,"offset":-47,"baseline":"alphabetic","color":"black"},
   "layer":[
   {"mark":{"type":"bar","color":"black"},"encoding":{
     "x":{"field":"cond","type":"nominal","sort":null,"scale":{"range":[0,166.7],"paddingInner":0.25,"paddingOuter":0.2},"axis":{"title":null,"ticks":false,"labelAngle":0,"labelFontSize":14,"labelPadding":4,"labelExpr":"indexof(datum.label,'+')>0 ? [slice(datum.label,0,indexof(datum.label,'+')), slice(datum.label,indexof(datum.label,'+'))] : datum.label"}},
     "y":{"field":"mean","type":"quantitative","scale":{"domain":[0,3],"nice":false},"axis":{"title":"I/I₀","titleFontSize":19,"titlePadding":4,"labelFontSize":16,"tickCount":500,"labelOverlap":false,"values":[0,0.25,0.5,0.75,1,1.25,1.5,1.75,2,2.25,2.5,2.75,3],"labelExpr":"abs(datum.value/0.5-round(datum.value/0.5))<0.001 ? format(datum.value,'~g') : ''"}}}},
   {"transform":[{"filter":"isValid(datum.upper)"}],"mark":{"type":"rule","color":"#333333","strokeWidth":1.3},"encoding":{"x":{"field":"cond","type":"nominal","sort":null},"y":{"field":"mean","type":"quantitative"},"y2":{"field":"upper"}}},
   {"transform":[{"filter":"isValid(datum.upper)"}],"mark":{"type":"tick","color":"#333333","size":18,"thickness":1.3},"encoding":{"x":{"field":"cond","type":"nominal","sort":null},"y":{"field":"upper","type":"quantitative"}}},
   {"mark":{"type":"text","color":"white","fontSize":18},"encoding":{"x":{"field":"cond","type":"nominal","sort":null},"y":{"field":"mean","type":"quantitative","stack":"zero","bandPosition":0.5},"text":{"field":"n","type":"quantitative"}}},
   {"data":{"name":"one"},"mark":{"type":"point","filled":true,"color":"black","size":45,"opacity":1},"encoding":{"x":{"datum":"ZnPy"},"y":{"datum":2.87}}},
   {"data":{"name":"one"},"mark":{"type":"rule","color":"#333333","strokeWidth":1.3},"encoding":{"x":{"datum":"ZnPy"},"y":{"datum":2.87},"y2":{"datum":3.09}}},
   {"data":{"name":"one"},"mark":{"type":"rule","color":"#333333","strokeWidth":1.3},"encoding":{"x":{"datum":"ZnPy"},"x2":{"datum":"ZnPy+TPEN"},"y":{"datum":3.09}}},
   {"data":{"name":"one"},"mark":{"type":"rule","color":"#333333","strokeWidth":1.3},"encoding":{"x":{"datum":"ZnPy+DTT"},"y":{"datum":2.61},"y2":{"datum":3.09}}},
   {"data":{"name":"one"},"mark":{"type":"rule","color":"#333333","strokeWidth":1.3},"encoding":{"x":{"datum":"ZnPy+TPEN"},"y":{"datum":2.35},"y2":{"datum":3.09}}},
   {"data":{"name":"one"},"mark":{"type":"text","fontSize":13},"encoding":{"x":{"datum":"ZnPy+DTT"},"y":{"datum":3.26},"text":{"value":"NS"}}},
   {"data":{"name":"one"},"mark":{"type":"text","fontSize":14,"color":"#555555"},"encoding":{"x":{"datum":"ZnPy+TPEN"},"y":{"datum":3.22},"text":{"value":"*"}}}
  ]},
  {"width":156,"height":173.3,"data":{"name":"I"},
   "title":{"text":"I","fontSize":30,"fontWeight":"normal","anchor":"start","frame":"group","dx":-44,"offset":-34,"baseline":"alphabetic","color":"black"},
   "layer":[
   {"mark":{"type":"bar","color":"black"},"encoding":{
     "x":{"field":"cond","type":"nominal","sort":null,"scale":{"range":[0,156],"paddingInner":0.22,"paddingOuter":0.16},"axis":{"title":null,"ticks":false,"labelAngle":-45,"labelAlign":"right","labelBaseline":"top","labelFontSize":14,"labelPadding":3}},
     "y":{"field":"mean","type":"quantitative","scale":{"domain":[0,4],"nice":false},"axis":{"title":"I/I₀","titleFontSize":19,"titlePadding":14,"labelFontSize":16,"tickCount":500,"labelOverlap":false,"values":[0,0.5,1,1.5,2,2.5,3,3.5,4],"labelExpr":"abs(datum.value-round(datum.value))<0.001 ? format(datum.value,'~g') : ''"}}}},
   {"transform":[{"filter":"isValid(datum.upper)"}],"mark":{"type":"rule","color":"#333333","strokeWidth":1.3},"encoding":{"x":{"field":"cond","type":"nominal","sort":null},"y":{"field":"mean","type":"quantitative"},"y2":{"field":"upper"}}},
   {"transform":[{"filter":"isValid(datum.upper)"}],"mark":{"type":"tick","color":"#333333","size":12,"thickness":1.3},"encoding":{"x":{"field":"cond","type":"nominal","sort":null},"y":{"field":"upper","type":"quantitative"}}},
   {"mark":{"type":"text","color":"white","fontSize":17},"encoding":{"x":{"field":"cond","type":"nominal","sort":null},"y":{"field":"mean","type":"quantitative","stack":"zero","bandPosition":0.5},"text":{"field":"n","type":"quantitative"}}},
   {"data":{"name":"one"},"mark":{"type":"text","fontSize":14,"color":"#555555"},"encoding":{"x":{"datum":"ZnPy"},"y":{"datum":4.0},"text":{"value":"**"}}},
   {"data":{"name":"one"},"mark":{"type":"text","fontSize":15,"color":"#555555"},"encoding":{"x":{"datum":"ZnPy+TPEN"},"y":{"datum":1.57},"text":{"value":"#"}}}
  ]}
]
}
